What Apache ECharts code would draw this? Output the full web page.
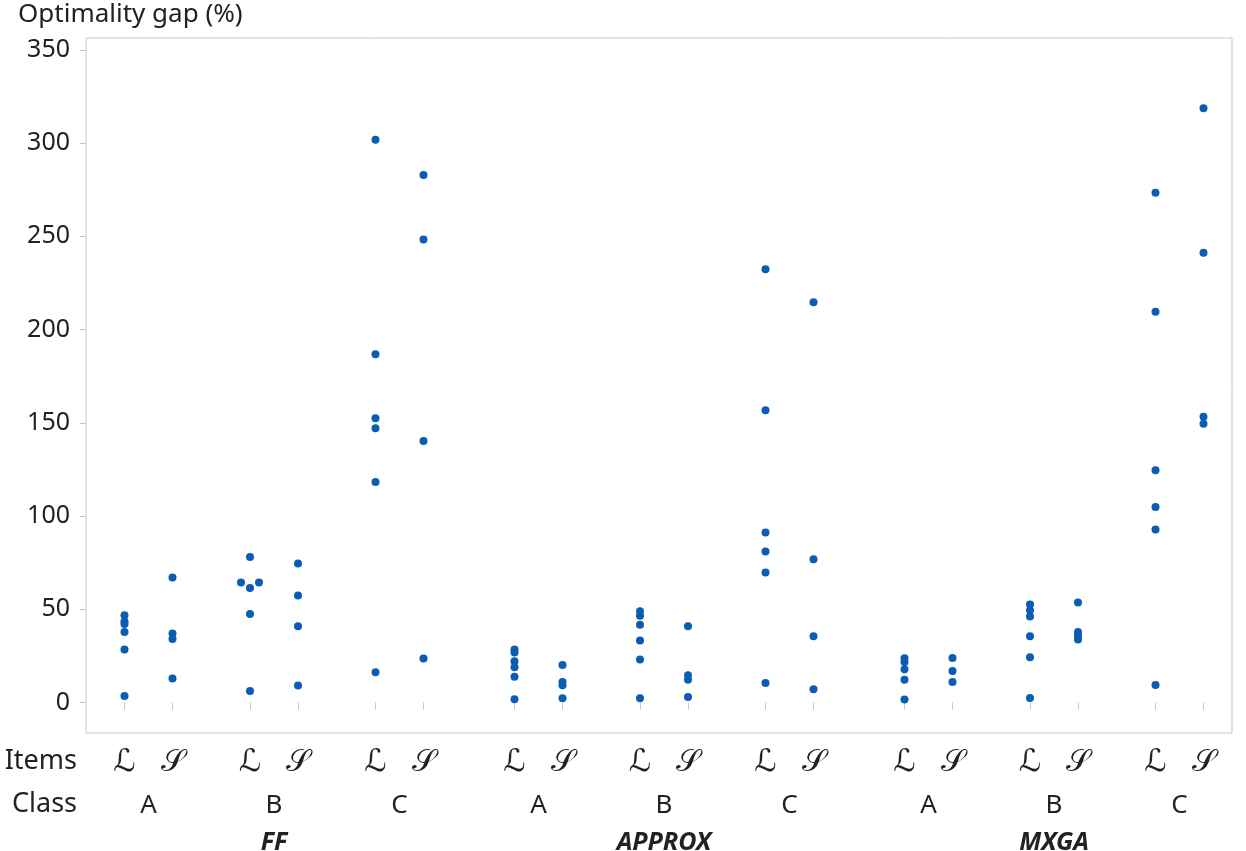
<!DOCTYPE html>
<html><head><meta charset="utf-8">
<script src="https://cdn.jsdelivr.net/npm/echarts@6/dist/echarts.min.js"></script>
<style>html,body{margin:0;padding:0;background:#fff}#c{width:1246px;height:851px}</style>
</head><body><div id="c"></div>
<script>
// ---- data ----
const methods = ['FF', 'APPROX', 'MXGA'];
const classes = ['A', 'B', 'C'];
const items = ['ℒ', '𝒮'];
const yTicks = [0, 50, 100, 150, 200, 250, 300, 350];

const ffAL = [46.8, 43.5, 42.2, 37.9, 28.4, 3.5];
const ffAS = [67.1, 37.0, 34.1, 12.9];
const ffBL = [78.0, 64.4, 61.5, 64.4, 47.5, 6.2];
const ffBLdodge = [0, -1, 0, 1, 0, 0];
const ffBS = [74.6, 57.4, 40.9, 9.1];
const ffCL = [301.8, 186.7, 152.4, 147.1, 118.3, 16.3];
const ffCS = [282.9, 248.3, 140.3, 23.7];
const apAL = [28.4, 26.8, 22.2, 18.9, 13.9, 1.8];
const apAS = [20.2, 11.1, 9.3, 2.3];
const apBL = [49.0, 46.5, 41.7, 33.3, 23.1, 2.3];
const apBS = [40.9, 14.6, 12.3, 3.0];
const apCL = [232.3, 156.7, 91.2, 81.0, 69.8, 10.5];
const apCS = [214.6, 76.9, 35.6, 7.1];
const mxAL = [23.8, 21.8, 17.9, 12.3, 1.6];
const mxAS = [23.9, 17.0, 11.1];
const mxBL = [52.6, 49.5, 46.1, 35.6, 24.3, 2.5];
const mxBS = [53.7, 37.9, 35.7, 33.8];
const mxCL = [273.3, 209.6, 124.6, 104.8, 92.8, 9.5];
const mxCS = [318.6, 241.2, 153.3, 149.5];

const groups = [
  [[ffAL, ffAS], [ffBL, ffBS], [ffCL, ffCS]],
  [[apAL, apAS], [apBL, apBS], [apCL, apCS]],
  [[mxAL, mxAS], [mxBL, mxBS], [mxCL, mxCS]]
];
const dodges = new Map([[ffBL, ffBLdodge]]);

// ---- layout (axis units) ----
const X_MAX = 1146, FIRST = 38.5, STEP_M = 390, STEP_C = 125.5, STEP_I = 48, DODGE = 9;
const itemPos = [], itemLab = [], classPos = [], classLab = [], methPos = [], methLab = [];
const points = [];
methods.forEach((m, mi) => {
  classes.forEach((c, ci) => {
    const base = FIRST + STEP_M * mi + STEP_C * ci;
    items.forEach((it, ii) => {
      const x = base + STEP_I * ii;
      itemPos.push(x); itemLab.push(it);
      const vals = groups[mi][ci][ii];
      const dg = dodges.get(vals);
      vals.forEach((v, k) => points.push([x + (dg ? dg[k] * DODGE : 0), v]));
    });
    classPos.push(base + STEP_I / 2); classLab.push(c);
    if (ci === 1) { methPos.push(base + STEP_I / 2); methLab.push(m); }
  });
});
function lookup(pos, lab) {
  return v => { for (let i = 0; i < pos.length; i++) if (Math.abs(pos[i] - v) < 0.5) return lab[i]; return ''; };
}

const FONT = "'Noto Sans', 'Open Sans', sans-serif";
const TXT = '#222';
const GREY = '#c8c8c8';
const hidden = { show: false };

const chart = echarts.init(document.getElementById('c'), null, { renderer: 'canvas' });
chart.setOption({
  animation: false,
  textStyle: { fontFamily: FONT },
  grid: { left: 86, right: 14, top: 38, bottom: 118, show: true, borderColor: GREY, borderWidth: 1,
    backgroundColor: 'transparent', outerBoundsMode: 'none', containLabel: false },
  graphic: [
    { type: 'text', left: 18, top: 2, style: { text: 'Optimality gap (%)', font: "26px " + FONT, fill: TXT } },
    { type: 'text', right: 1246 - 77, top: 748, style: { text: 'Items', font: "27px " + FONT, fill: TXT, align: 'right' } },
    { type: 'text', right: 1246 - 77, top: 791, style: { text: 'Class', font: "27px " + FONT, fill: TXT, align: 'right' } }
  ],
  xAxis: [
    { type: 'value', min: 0, max: X_MAX, gridIndex: 0, position: 'bottom',
      axisLine: hidden, splitLine: hidden,
      axisTick: { show: true, customValues: itemPos, length: 7, lineStyle: { color: GREY } },
      axisLabel: { customValues: itemPos, formatter: lookup(itemPos, itemLab), margin: 30, verticalAlign: 'middle',
        fontFamily: "'DejaVu Serif', 'DejaVu Sans', serif", fontSize: 31, color: TXT } },
    { type: 'value', min: 0, max: X_MAX, gridIndex: 0, position: 'bottom',
      axisLine: hidden, splitLine: hidden, axisTick: hidden,
      axisLabel: { customValues: classPos, formatter: lookup(classPos, classLab), margin: 73, verticalAlign: 'middle',
        fontSize: 26, color: TXT } },
    { type: 'value', min: 0, max: X_MAX, gridIndex: 0, position: 'bottom',
      axisLine: hidden, splitLine: hidden, axisTick: hidden,
      axisLabel: { customValues: methPos, formatter: lookup(methPos, methLab), margin: 110, verticalAlign: 'middle',
        fontSize: 25, fontWeight: 'bold', fontStyle: 'italic', color: TXT } }
  ],
  yAxis: {
    type: 'value', min: -16.3, max: 356.3,
    axisLine: hidden, splitLine: hidden,
    axisTick: { show: true, customValues: yTicks, length: 6, lineStyle: { color: GREY } },
    axisLabel: { customValues: yTicks, margin: 16, fontSize: 25, color: TXT }
  },
  series: [{
    type: 'scatter', xAxisIndex: 0, data: points, symbolSize: 8,
    itemStyle: { color: '#0b5db3', opacity: 1 }
  }]
});
</script></body></html>
